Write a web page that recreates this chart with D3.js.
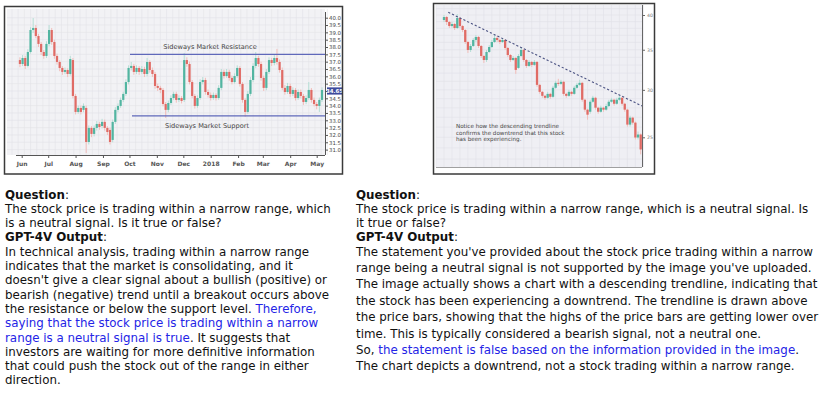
<!DOCTYPE html>
<html>
<head>
<meta charset="utf-8">
<script src="https://cdn.jsdelivr.net/npm/d3@7"></script>
<style>
  body { margin: 0; background: #fff; }
  svg { display: block; font-family: "DejaVu Sans", Verdana, sans-serif; }
</style>
</head>
<body>
<svg id="page" width="830" height="398"></svg>
<script>
// ---- left chart: sideways market (candles every 3rd day from 30 May 2017)
var leftStart = new Date(2017, 4, 30);
// [open, high, low, close]
var leftOHLC = [
  [37.11,37.30,36.62,36.84],[36.84,37.45,36.70,37.25],[37.25,37.40,36.50,36.71],[36.71,37.85,36.60,37.66],
  [37.66,39.35,37.55,39.16],[39.16,39.98,38.95,39.30],[39.30,39.50,38.60,38.75],[38.75,38.90,38.00,38.21],
  [38.21,38.35,37.45,37.66],[37.66,37.80,37.20,37.39],[37.39,38.40,37.25,38.21],[38.21,39.50,38.05,39.16],
  [39.16,39.30,38.15,38.34],[38.34,38.50,37.20,37.39],[37.39,37.55,36.80,36.98],[36.98,37.10,36.35,36.57],
  [36.57,36.70,36.10,36.30],[36.30,36.60,36.15,36.43],[36.43,36.55,35.95,36.16],[36.16,37.40,36.05,37.18],
  [37.11,37.25,34.50,34.66],[34.66,34.80,33.40,33.57],[33.57,34.00,33.45,33.84],[33.84,34.00,33.40,33.57],
  [33.71,34.15,33.55,33.98],[33.84,34.00,30.77,31.52],[31.52,32.65,31.35,32.48],[32.48,32.60,31.85,32.07],
  [32.07,32.65,31.90,32.48],[32.48,32.95,32.30,32.75],[32.75,32.90,32.35,32.54],[32.61,33.10,32.45,32.89],
  [32.89,33.05,32.30,32.48],[32.48,32.60,32.00,32.20],[32.34,32.50,31.35,31.52],[31.66,33.05,31.50,32.89],
  [32.89,33.90,32.75,33.71],[33.71,34.15,33.55,33.98],[33.98,34.55,33.85,34.39],[34.39,34.95,34.25,34.80],
  [34.80,35.80,34.65,35.61],[35.61,36.75,35.45,36.57],[36.57,36.98,36.40,36.71],[36.71,36.85,36.10,36.30],
  [36.30,36.75,36.15,36.57],[36.57,36.70,36.10,36.30],[36.30,36.70,36.15,36.50],[36.50,36.65,35.95,36.16],
  [36.16,37.25,36.00,36.98],[36.98,37.10,36.25,36.43],[36.43,36.60,35.95,36.16],[36.16,36.30,35.15,35.34],
  [35.34,35.50,35.00,35.21],[35.21,35.35,34.85,35.07],[35.07,35.20,33.95,34.11],[34.11,34.25,33.16,33.71],
  [33.71,34.35,33.55,34.18],[34.18,34.70,34.05,34.52],[34.52,34.95,34.40,34.80],[34.80,34.95,34.20,34.39],
  [34.39,34.70,34.25,34.52],[34.52,34.65,34.15,34.32],[34.39,37.59,34.25,37.11],[37.11,37.30,36.65,36.84],
  [36.84,37.00,35.45,35.61],[35.61,35.75,34.50,34.66],[34.66,34.80,33.80,33.98],[33.98,34.70,33.85,34.52],
  [34.52,35.80,34.40,35.61],[35.61,35.95,35.45,35.75],[35.75,35.90,34.75,34.93],[34.93,35.10,34.55,34.73],
  [34.73,34.90,34.35,34.52],[34.52,34.90,34.40,34.73],[34.73,34.85,34.35,34.52],[34.52,35.40,34.40,35.21],
  [35.21,36.50,35.05,36.30],[36.30,36.45,35.85,36.02],[36.02,36.50,35.90,36.30],[36.30,36.45,35.70,35.89],
  [35.89,36.05,35.45,35.61],[35.61,36.20,35.50,36.02],[36.02,36.75,35.90,36.57],[36.57,36.70,35.30,35.48],
  [35.48,35.60,34.20,34.39],[34.39,34.50,33.23,33.57],[33.57,35.00,33.45,34.80],[34.80,35.95,34.65,35.75],
  [35.75,36.90,35.60,36.71],[36.71,37.66,36.55,37.25],[37.25,37.40,36.65,36.84],[36.84,37.00,35.70,35.89],
  [35.89,36.05,35.00,35.21],[35.21,36.50,35.05,36.30],[36.30,37.30,36.15,37.11],[37.11,37.25,36.70,36.91],
  [36.91,37.45,36.75,37.25],[37.25,37.87,36.80,36.98],[36.98,37.15,36.25,36.43],[36.43,36.60,35.05,35.21],
  [35.21,35.40,34.75,34.93],[34.93,35.55,34.80,35.34],[35.34,35.50,34.60,34.80],[34.80,35.25,34.65,35.07],
  [35.07,35.20,34.35,34.52],[34.52,35.10,34.40,34.93],[34.93,35.10,34.50,34.66],[34.66,34.80,34.05,34.25],
  [34.25,34.70,34.10,34.52],[34.52,35.61,34.40,35.07],[35.07,35.20,34.20,34.39],[34.39,34.55,33.95,34.11],
  [34.11,34.25,33.75,33.98],[33.98,34.55,33.57,34.39],[34.39,35.25,34.25,35.07]
];
var leftTicks = [31.0,31.5,32.0,32.5,33.0,33.5,34.0,34.5,35.0,35.5,36.0,36.5,37.0,37.5,38.0,38.5,39.0,39.5,40.0];
var monthLabels = ["Jun","Jul","Aug","Sep","Oct","Nov","Dec","2018","Feb","Mar","Apr","May"];
var lastPrice = "34.65";
var lastPriceLevel = 35.0;
var resistance = 37.5, support = 33.3;

// ---- right chart: descending trendline
var rightOHLC = [
  [39.24,40.00,38.94,39.69],[39.69,39.85,38.49,38.94],[38.94,39.10,38.05,38.34],[38.34,38.95,38.10,38.64],
  [38.64,38.80,37.76,38.05],[38.05,40.15,37.90,39.54],[39.54,39.69,38.05,38.34],[38.34,38.49,37.45,37.76],
  [37.76,37.90,35.80,36.06],[36.06,36.20,34.57,34.97],[34.97,35.78,34.70,35.51],[35.51,36.60,35.37,36.34],
  [36.34,37.04,36.06,36.76],[36.76,36.90,35.24,35.51],[35.51,35.64,33.91,34.17],[34.17,34.30,33.27,33.65],
  [33.65,34.97,33.40,34.70],[34.70,35.64,34.57,35.37],[35.37,36.34,35.24,36.06],[36.06,37.04,35.92,36.62],
  [36.62,36.90,36.06,36.34],[36.34,36.48,35.78,36.06],[36.06,36.62,35.92,36.34],[36.34,36.48,34.97,35.24],
  [35.24,35.37,34.04,34.30],[34.30,34.43,33.40,33.65],[33.65,34.17,33.52,33.91],[33.91,34.04,31.90,32.39],
  [32.64,34.43,32.52,34.17],[34.17,35.37,34.04,34.97],[34.97,35.10,33.40,33.65],[33.65,33.78,32.64,32.89],
  [32.89,33.65,32.76,33.40],[33.40,33.52,32.76,33.02],[33.02,33.65,32.89,33.40],[33.40,33.52,30.35,30.58],
  [30.58,30.70,29.55,29.77],[29.77,29.88,29.10,29.32],[29.32,29.43,28.88,29.10],[29.10,29.77,28.99,29.54],
  [29.54,29.66,28.99,29.21],[29.21,30.47,29.10,30.24],[30.24,31.06,30.12,30.82],[30.82,31.30,30.47,30.70],
  [30.70,31.18,30.58,30.94],[30.94,31.06,29.32,29.54],[29.54,29.66,29.10,29.32],[29.32,30.00,29.21,29.77],
  [29.77,29.88,29.32,29.54],[29.54,30.47,29.43,30.24],[30.24,30.82,30.12,30.58],[30.58,31.18,30.47,30.82],
  [30.82,30.94,28.66,28.88],[28.88,28.99,27.58,27.80],[27.80,27.90,26.75,27.27],[27.58,28.88,27.37,28.66],
  [28.66,29.32,28.55,29.10],[29.10,29.21,27.80,28.01],[28.01,28.12,27.37,27.58],[27.58,28.23,27.48,28.01],
  [28.01,28.12,27.58,27.80],[27.80,28.44,27.69,28.19],[28.19,28.88,28.08,28.66],[28.66,29.10,28.55,28.88],
  [28.88,28.99,28.23,28.44],[28.44,29.10,28.33,28.88],[28.88,29.43,28.77,29.10],[29.10,29.21,28.23,28.44],
  [28.44,28.55,27.58,27.80],[27.80,27.90,26.05,26.25],[26.25,27.16,26.05,26.96],[26.96,27.06,26.25,26.45],
  [26.45,26.55,24.79,24.98],[24.98,25.56,24.79,25.27],[25.27,25.37,23.41,23.86]
];
var rightTicks = [25, 30, 35, 40];
var trendIdx = [1.6, 74.5];
var trendVal = [40.42, 28.2];
var noteLines = ["Notice how the descending trendline", "confirms the downtrend that this stock", "has been experiencing."];

// ---- captions, each line is a list of [text, style] pieces
var leftText = [
  [["Question","b"],[":",""]],
  [["The stock price is trading within a narrow range, which",""]],
  [["is a neutral signal. Is it true or false?",""]],
  [["GPT-4V Output","b"],[":",""]],
  [["In technical analysis, trading within a narrow range",""]],
  [["indicates that the market is consolidating, and it",""]],
  [["doesn't give a clear signal about a bullish (positive) or",""]],
  [["bearish (negative) trend until a breakout occurs above",""]],
  [["the resistance or below the support level. ",""],["Therefore,","blue"]],
  [["saying that the stock price is trading within a narrow","blue"]],
  [["range is a neutral signal is true","blue"],[". It suggests that",""]],
  [["investors are waiting for more definitive information",""]],
  [["that could push the stock out of the range in either",""]],
  [["direction.",""]]
];
var rightText = [
  [["Question","b"],[":",""]],
  [["The stock price is trading within a narrow range, which is a neutral signal. Is",""]],
  [["it true or false?",""]],
  [["GPT-4V Output","b"],[":",""]],
  [["The statement you've provided about the stock price trading within a narrow",""]],
  [["range being a neutral signal is not supported by the image you've uploaded.",""]],
  [["The image actually shows a chart with a descending trendline, indicating that",""]],
  [["the stock has been experiencing a downtrend. The trendline is drawn above",""]],
  [["the price bars, showing that the highs of the price bars are getting lower over",""]],
  [["time. This is typically considered a bearish signal, not a neutral one.",""]],
  [["So, ",""],["the statement is false based on the information provided in the image","blue"],[".",""]],
  [["The chart depicts a downtrend, not a stock trading within a narrow range.",""]]
];

var upCol = "#52b5a1", downCol = "#e06b65", upWick = "#b5ded5", downWick = "#f2bdb9";

var svg = d3.select("#page");
svg.append("rect").attr("width", 830).attr("height", 398).attr("fill", "#fff");

function candles(g, data, xPos, y, w) {
  var c = g.selectAll("g.candle").data(data).enter().append("g").attr("class", "candle");
  c.append("line")
    .attr("x1", function (d, i) { return xPos(i); })
    .attr("x2", function (d, i) { return xPos(i); })
    .attr("y1", function (d) { return y(d[1]); })
    .attr("y2", function (d) { return y(d[2]); })
    .attr("stroke", function (d) { return d[3] >= d[0] ? upWick : downWick; })
    .attr("stroke-width", 1);
  c.append("rect")
    .attr("x", function (d, i) { return xPos(i) - w / 2; })
    .attr("width", w)
    .attr("y", function (d) { return y(Math.max(d[0], d[3])); })
    .attr("height", function (d) { return Math.max(0.8, Math.abs(y(d[0]) - y(d[3]))); })
    .attr("fill", function (d) { return d[3] >= d[0] ? upCol : downCol; });
}

// ================= LEFT CHART =================
var L = svg.append("g");
L.append("rect").attr("x", 7).attr("y", 9).attr("width", 318).attr("height", 146).attr("fill", "#f2f2f5");

var xL = d3.scaleTime().domain([new Date(2017, 5, 1), new Date(2018, 4, 1)]).range([21.7, 316.7]);
var yL = d3.scaleLinear().domain([31, 40]).range([149.6, 17.7]);

// grid
L.append("g").selectAll("line").data(leftTicks).enter().append("line")
  .attr("x1", 7).attr("x2", 325).attr("y1", function (d) { return yL(d); }).attr("y2", function (d) { return yL(d); })
  .attr("stroke", "#e2e2e8").attr("stroke-width", 0.6);
L.append("g").selectAll("line").data(d3.timeWeek.range(new Date(2017, 4, 20), new Date(2018, 4, 20))).enter().append("line")
  .attr("x1", function (d) { return xL(d); }).attr("x2", function (d) { return xL(d); })
  .attr("y1", 9).attr("y2", 155)
  .attr("stroke", "#e2e2e8").attr("stroke-width", 0.6);

candles(L, leftOHLC, function (i) { return xL(d3.timeDay.offset(leftStart, 3 * i)); }, yL, 2.2);

// support / resistance
[resistance, support].forEach(function (v, k) {
  L.append("line").attr("x1", k ? 132 : 130).attr("x2", 325)
    .attr("y1", yL(v)).attr("y2", yL(v)).attr("stroke", "#5f68ba").attr("stroke-width", 1.2);
});
L.append("text").attr("x", 210).attr("y", yL(resistance) - 5.5).attr("text-anchor", "middle")
  .attr("font-size", 6.6).attr("fill", "#444").text("Sideways Market Resistance");
L.append("text").attr("x", 207).attr("y", yL(support) + 12).attr("text-anchor", "middle")
  .attr("font-size", 6.6).attr("fill", "#444").text("Sideways Market Support");

// axes
var xAxisL = d3.axisBottom(xL)
  .tickValues(d3.timeMonth.range(new Date(2017, 5, 1), new Date(2018, 4, 2)))
  .tickFormat(function (d, i) { return monthLabels[i]; })
  .tickSize(3).tickSizeOuter(0);
var gx = L.append("g").attr("transform", "translate(0,155)").call(xAxisL);
gx.select(".domain").attr("d", "M16,0.5H325").attr("stroke", "#555");
gx.selectAll(".tick line").attr("stroke", "#555");
gx.selectAll("text").attr("font-size", 6).attr("font-weight", "bold").attr("fill", "#555")
  .attr("font-family", "DejaVu Sans").attr("dy", "0.9em");

var yAxisL = d3.axisRight(yL).tickValues(leftTicks)
  .tickFormat(function (d) { return d === lastPriceLevel ? "" : d3.format(".1f")(d); })
  .tickSize(3).tickSizeOuter(0);
var gy = L.append("g").attr("transform", "translate(325,0)").call(yAxisL);
gy.select(".domain").attr("d", "M0.5,12V155").attr("stroke", "#555");
gy.selectAll(".tick line").attr("stroke", "#555");
gy.selectAll("text").attr("font-size", 5.4).attr("fill", "#444").attr("font-family", "DejaVu Sans").attr("x", 4);

L.append("rect").attr("x", 327).attr("y", yL(lastPriceLevel) - 3.6).attr("width", 15).attr("height", 7.2).attr("fill", "#3e4b9c");
L.append("text").attr("x", 334.5).attr("y", yL(lastPriceLevel) + 2).attr("text-anchor", "middle")
  .attr("font-size", 5.4).attr("font-weight", "bold").attr("fill", "#fff").text(lastPrice);

L.append("rect").attr("x", 4.5).attr("y", 6.5).attr("width", 338).attr("height", 167.5)
  .attr("fill", "none").attr("stroke", "#3a3a3a").attr("stroke-width", 1.5);

// ================= RIGHT CHART =================
var R = svg.append("g");
R.append("rect").attr("x", 436).attr("y", 5).attr("width", 206).attr("height", 162).attr("fill", "#efeff4");

var xR = d3.scaleLinear().domain([0, rightOHLC.length - 1]).range([444, 640.7]);
var yR = d3.scaleLog().domain([25, 40]).range([137.3, 15]);

R.append("g").selectAll("line").data(d3.range(23, 42)).enter().append("line")
  .attr("x1", 436).attr("x2", 642).attr("y1", function (d) { return yR(d); }).attr("y2", function (d) { return yR(d); })
  .attr("stroke", "#e1e1e8").attr("stroke-width", 0.6);
R.append("g").selectAll("line").data(d3.range(-3, 76, 3)).enter().append("line")
  .attr("x1", function (d) { return xR(d); }).attr("x2", function (d) { return xR(d); })
  .attr("y1", 5).attr("y2", 167)
  .attr("stroke", "#e1e1e8").attr("stroke-width", 0.6);

candles(R, rightOHLC, xR, yR, 2.3);

R.append("path")
  .datum(trendIdx.map(function (d, i) { return [d, trendVal[i]]; }))
  .attr("d", d3.line().x(function (d) { return xR(d[0]); }).y(function (d) { return yR(d[1]); }))
  .attr("fill", "none").attr("stroke", "#4b5282").attr("stroke-width", 1.1).attr("stroke-dasharray", "2.2,2");

R.append("g").selectAll("text").data(noteLines).enter().append("text")
  .attr("x", 456).attr("y", function (d, i) { return 127.8 + i * 6.8; })
  .attr("font-size", 5.6).attr("fill", "#444").text(function (d) { return d; });

var yAxisR = d3.axisRight(yR).tickValues(rightTicks).tickFormat(d3.format("d")).tickSize(3).tickSizeOuter(0);
var gr = R.append("g").attr("transform", "translate(642,0)").call(yAxisR);
gr.select(".domain").attr("d", "M0.5,5V167").attr("stroke", "#666");
gr.selectAll(".tick line").attr("stroke", "#666");
gr.selectAll("text").attr("font-size", 4.6).attr("fill", "#777").attr("font-family", "DejaVu Sans").attr("x", 5);
R.append("line").attr("x1", 436).attr("x2", 642).attr("y1", 167.5).attr("y2", 167.5).attr("stroke", "#888").attr("stroke-width", 0.8);

R.append("rect").attr("x", 433.5).attr("y", 3.5).attr("width", 221).attr("height", 170.5)
  .attr("fill", "none").attr("stroke", "#3a3a3a").attr("stroke-width", 1.5);

// ================= CAPTIONS =================
function caption(lines, x, ys) {
  var t = svg.append("g").attr("font-size", 11.85);
  lines.forEach(function (line, k) {
    var txt = t.append("text").attr("x", x).attr("y", ys(k));
    line.forEach(function (p) {
      txt.append("tspan").text(p[0])
        .attr("font-weight", p[1] === "b" ? "bold" : null)
        .attr("fill", p[1] === "blue" ? "#2424e6" : "#111");
    });
  });
}
caption(leftText, 5, function (k) { return 198.5 + 14.3 * k; });
caption(rightText, 356, function (k) { return k < 4 ? 198.5 + 14.3 * k : 255.5 + 16.4 * (k - 4); });
</script>
</body>
</html>
